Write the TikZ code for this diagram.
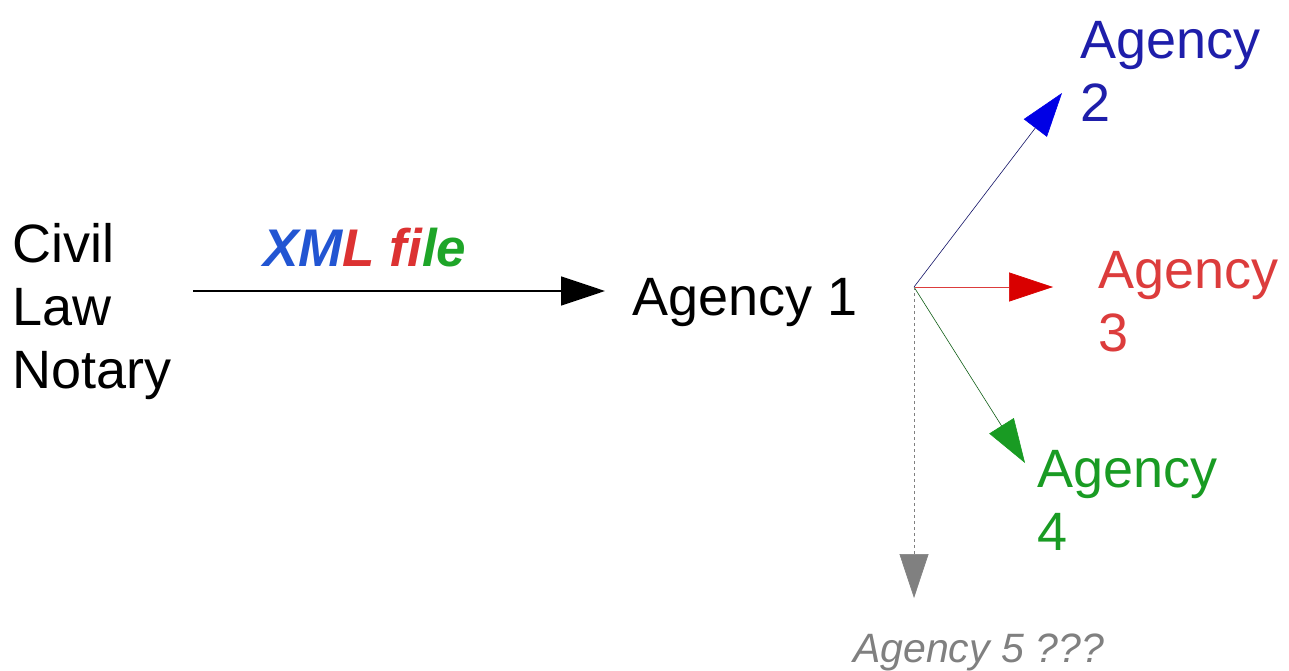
\documentclass[tikz,border=0pt]{standalone}
\usepackage{fontspec}
\setmainfont{Liberation Sans}
\usetikzlibrary{arrows.meta}
\definecolor{xmlblue}{RGB}{34,85,210}
\definecolor{xmlred}{RGB}{220,50,50}
\definecolor{xmlgreen}{RGB}{30,165,40}
\definecolor{agblue}{RGB}{30,30,170}
\definecolor{agred}{RGB}{220,60,60}
\definecolor{aggreen}{RGB}{25,155,35}
\definecolor{aggray}{RGB}{128,128,128}

\begin{document}
\begin{tikzpicture}[x=1pt,y=-1pt,
  txt/.style={inner sep=0pt,anchor=base west,align=left,font=\fontsize{54}{63}\selectfont},
  head/.style={-{Triangle[length=44pt,width=29pt,color=#1]}}]
\useasboundingbox (0,0) rectangle (1289,671);
% sender and first agency
\node[txt] (notary) at (12,388) {Civil\\Law\\Notary};
\node[txt] (agencyA) at (632,315) {Agency 1};
\node[txt,font=\fontsize{53}{60}\selectfont\bfseries\itshape] (xml) at (263,266)
  {\textcolor{xmlblue}{XM}\textcolor{xmlred}{L fi}\textcolor{xmlgreen}{le}};
\coordinate (start) at (193,291);
\coordinate (tipA) at (605,291);
\draw[head=black,line width=1.6pt] (start) -- (tipA);
% the other agencies
\coordinate (hub) at (914,287);
\coordinate (tipB) at (1062,93);
\coordinate (tipC) at (1053,287);
\coordinate (tipD) at (1025,463);
\coordinate (tipE) at (914,598);
\node[txt,text=agblue] (agencyB) at (1080,122) {Agency\\2};
\node[txt,text=agred] (agencyC) at (1098,351) {Agency\\3};
\node[txt,text=aggreen] (agencyD) at (1037,550) {Agency\\4};
\node[txt,text=aggray,font=\fontsize{41}{48}\selectfont\itshape] (agencyE) at (853,662) {Agency 5 ???};
\draw[head=blue!90!black,agblue!60!black,line width=0.6pt] (hub) -- (tipB);
\draw[head=red!85!black,agred,line width=0.6pt] (hub) -- (tipC);
\draw[head=aggreen,aggreen!60!black,line width=0.6pt] (hub) -- (tipD);
\draw[head=aggray,aggray,dashed,line width=0.6pt] (hub) -- (tipE);
\end{tikzpicture}
\end{document}
